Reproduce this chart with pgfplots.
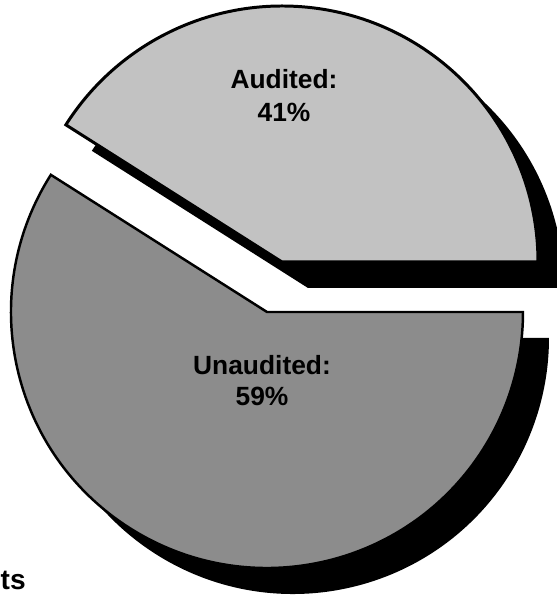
\documentclass[border=0pt]{standalone}
\usepackage{pgfplots}
\pgfplotsset{compat=1.18}
\usepackage{fontspec}
\setmainfont{Liberation Sans}
\definecolor{auditedgray}{RGB}{194,194,194}
\definecolor{unauditedgray}{RGB}{140,140,140}
% data: share of each slice in percent
\def\pctAudited{41}
\def\pctUnaudited{59}
\begin{document}
\begin{tikzpicture}
\pgfmathsetmacro{\angA}{3.6*\pctAudited}
\pgfmathsetmacro{\angU}{\angA+3.6*\pctUnaudited}
\def\R{5.12cm}
\begin{axis}[
  scale only axis, width=11.14cm, height=11.92cm,
  xmin=0, xmax=557, ymin=0, ymax=596,
  hide axis, clip=true]
% shadows
\fill[black] (axis cs:293,258) -- ++(\angA:\R) arc[start angle=\angA, end angle=\angU, radius=\R] -- cycle;
\fill[black] (axis cs:308,308) -- ++(0:\R) arc[start angle=0, end angle=\angA, radius=\R] -- cycle;
% slices
\filldraw[fill=unauditedgray, draw=black, line width=1.4pt, line join=miter]
  (axis cs:267,284) -- ++(\angA:\R) arc[start angle=\angA, end angle=\angU, radius=\R] -- cycle;
\filldraw[fill=auditedgray, draw=black, line width=1.7pt, line join=miter]
  (axis cs:282,334) -- ++(0:\R) arc[start angle=0, end angle=\angA, radius=\R] -- cycle;
% labels
\node[anchor=base, font=\fontsize{15pt}{18pt}\selectfont\bfseries] at (axis cs:284,507) {Audited:};
\node[anchor=base, font=\fontsize{15pt}{18pt}\selectfont\bfseries] at (axis cs:284,474) {41\%};
\node[anchor=base, font=\fontsize{15pt}{18pt}\selectfont\bfseries] at (axis cs:262,221) {Unaudited:};
\node[anchor=base, font=\fontsize{15pt}{18pt}\selectfont\bfseries] at (axis cs:262,190) {59\%};
\node[anchor=base east, inner sep=0pt, font=\fontsize{16pt}{18pt}\selectfont\bfseries] at (axis cs:26,6) {ts};
\end{axis}
\pgfresetboundingbox
\path[use as bounding box] (current axis.south west) rectangle (current axis.north east);
\end{tikzpicture}
\end{document}
